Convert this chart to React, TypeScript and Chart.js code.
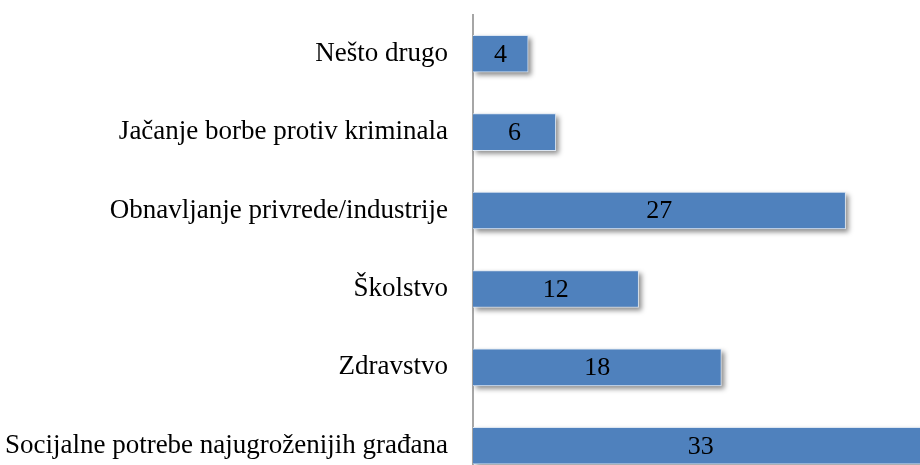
import React, { useEffect, useRef } from "react";
import { Chart, registerables } from "chart.js";

Chart.register(...registerables);

const categories: string[] = [
  "Nešto drugo",
  "Jačanje borbe protiv kriminala",
  "Obnavljanje privrede/industrije",
  "Školstvo",
  "Zdravstvo",
  "Socijalne potrebe najugroženijih građana",
];
const values: number[] = [4, 6, 27, 12, 18, 33];

const FONT = "'Liberation Serif', 'Times New Roman', serif";

const shadowPlugin = {
  id: "barShadow",
  beforeDatasetsDraw(chart: any) {
    const ctx = chart.ctx;
    const meta = chart.getDatasetMeta(0);
    ctx.save();
    ctx.filter = "blur(2.5px)";
    ctx.fillStyle = "rgba(0,0,0,0.45)";
    meta.data.forEach((el: any) => {
      const x0 = Math.min(el.x, el.base);
      const w = Math.abs(el.x - el.base);
      const y0 = el.y - el.height / 2;
      ctx.fillRect(x0 + 3, y0 + 3, w, el.height);
    });
    ctx.restore();
  },
  afterDatasetsDraw(chart: any) {
    const ctx = chart.ctx;
    ctx.save();
    ctx.font = `26px ${FONT}`;
    ctx.fillStyle = "#000";
    ctx.textAlign = "center";
    ctx.textBaseline = "middle";
    const meta = chart.getDatasetMeta(0);
    meta.data.forEach((el: any, i: number) => {
      const cx = (el.x + el.base) / 2;
      ctx.fillText(String(values[i]), cx, el.y + 1);
    });
    ctx.restore();
  },
};

export default function App() {
  const ref = useRef<HTMLCanvasElement | null>(null);
  useEffect(() => {
    if (!ref.current) return;
    const chart = new Chart(ref.current, {
      type: "bar",
      data: {
        labels: categories,
        datasets: [
          {
            data: values,
            backgroundColor: "#4F81BD",
            borderColor: "#DCE6F2",
            borderWidth: 1,
            barThickness: 37,
          },
        ],
      },
      options: {
        indexAxis: "y",
        responsive: false,
        maintainAspectRatio: false,
        animation: false,
        layout: { padding: { top: 14.5, bottom: 0, left: 0, right: 0 } },
        plugins: {
          legend: { display: false },
          tooltip: { enabled: false },
        },
        scales: {
          x: {
            display: false,
            min: 0,
            max: 35,
          },
          y: {
            afterFit(scale: any) {
              scale.width = 473;
              scale.paddingTop = 0;
              scale.paddingBottom = 0;
            },
            grid: { display: false, drawTicks: false },
            border: { display: true, color: "#a6a6a6", width: 2 },
            ticks: {
              padding: 25,
              color: "#000",
              font: { family: FONT, size: 27 },
            },
          },
        },
      },
      plugins: [shadowPlugin],
    });
    return () => chart.destroy();
  }, []);
  return (
    <div
      style={{
        position: "absolute",
        left: 0,
        top: 0,
        width: 920,
        height: 465,
        overflow: "hidden",
        background: "#fff",
      }}
    >
      <canvas ref={ref} width={956} height={485} style={{ display: "block" }} />
    </div>
  );
}
